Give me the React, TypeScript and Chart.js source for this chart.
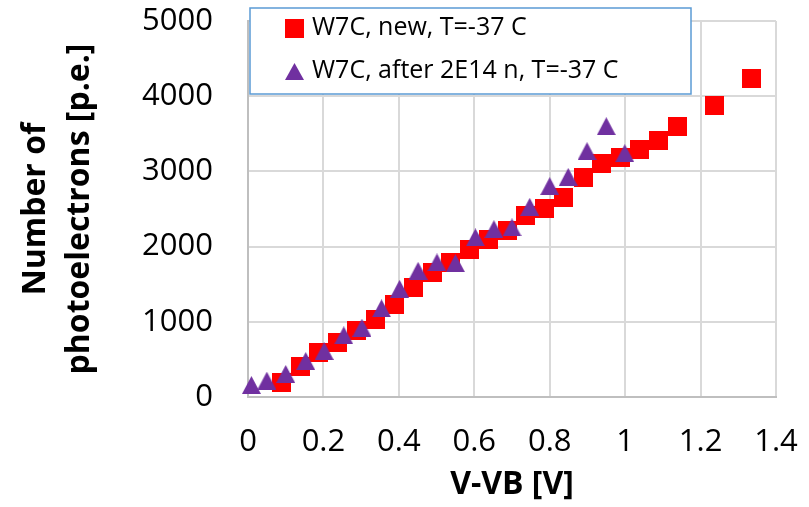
import React, { useEffect, useRef } from "react";
import { Chart, registerables } from "chart.js";

Chart.register(...registerables);

// W7C, new, T=-37 C
const newVoltage = [
  0.089, 0.138, 0.188, 0.238, 0.288, 0.339, 0.388, 0.439, 0.489, 0.537, 0.587, 0.638,
  0.688, 0.737, 0.787, 0.837, 0.889, 0.938, 0.987, 1.037, 1.088, 1.139, 1.238, 1.335,
];
const newPhotoelectrons = [
  199, 408, 598, 727, 881, 1027, 1236, 1452, 1652, 1790, 1957, 2099,
  2219, 2414, 2507, 2657, 2923, 3100, 3180, 3295, 3406, 3601, 3876, 4229,
];

// W7C, after 2E14 n, T=-37 C
const irradVoltage = [
  0.009, 0.05, 0.1, 0.153, 0.202, 0.254, 0.302, 0.354, 0.402, 0.451, 0.501,
  0.55, 0.603, 0.652, 0.7, 0.747, 0.8, 0.849, 0.899, 0.95, 0.999,
];
const irradPhotoelectrons = [
  159, 217, 306, 478, 611, 820, 921, 1179, 1439, 1678, 1790,
  1780, 2122, 2232, 2255, 2529, 2804, 2927, 3269, 3601, 3242,
];

const seriesLabels = ["W7C, new, T=-37 C", "W7C, after 2E14 n, T=-37 C"];
const xTicks = [0, 0.2, 0.4, 0.6, 0.8, 1, 1.2, 1.4];
const yTicks = [0, 1000, 2000, 3000, 4000, 5000];
const xTitle = "V-VB [V]";
const yTitle = ["Number of", "photoelectrons [p.e.]"];

const RED = "#FF0000";
const PURPLE = "#7030A0";
const FONT = "'Open Sans', sans-serif";

function squareMarker(size: number, color: string): HTMLCanvasElement {
  const c = document.createElement("canvas");
  c.width = size;
  c.height = size;
  const ctx = c.getContext("2d")!;
  ctx.fillStyle = color;
  ctx.fillRect(0, 0, size, size);
  return c;
}

function triangleMarker(w: number, h: number, color: string): HTMLCanvasElement {
  const c = document.createElement("canvas");
  c.width = w;
  c.height = h;
  const ctx = c.getContext("2d")!;
  ctx.fillStyle = color;
  ctx.beginPath();
  ctx.moveTo(w / 2, 0);
  ctx.lineTo(w, h);
  ctx.lineTo(0, h);
  ctx.closePath();
  ctx.fill();
  return c;
}

// Bordered legend box drawn inside the plot area
const boxedLegend = {
  id: "boxedLegend",
  afterDraw(chart: any) {
    const { ctx } = chart;
    const left = 250, top = 8, right = 691, bottom = 94;
    ctx.save();
    ctx.fillStyle = "#FFFFFF";
    ctx.fillRect(left, top, right - left, bottom - top);
    ctx.strokeStyle = "#5B9BD5";
    ctx.lineWidth = 1.5;
    ctx.strokeRect(left, top, right - left, bottom - top);

    const rows = [28, 71];
    chart.data.datasets.forEach((ds: any, i: number) => {
      const cy = rows[i];
      const mk = ds.legendMarker as HTMLCanvasElement;
      ctx.drawImage(mk, 294.5 - mk.width / 2, cy - mk.height / 2 + 0.5);
      ctx.fillStyle = "#000000";
      ctx.font = `25px ${FONT}`;
      ctx.textAlign = "left";
      ctx.textBaseline = "middle";
      ctx.fillText(ds.label, 312, cy);
    });
    ctx.restore();
  },
};

export default function App() {
  const canvasRef = useRef<HTMLCanvasElement | null>(null);

  useEffect(() => {
    const canvas = canvasRef.current;
    if (!canvas) return;

    const redSquare = squareMarker(19, RED);
    const purpleTriangle = triangleMarker(19, 18, PURPLE);

    const chart = new Chart(canvas, {
      type: "scatter",
      data: {
        datasets: [
          {
            label: seriesLabels[0],
            data: newVoltage.map((x, i) => ({ x, y: newPhotoelectrons[i] })),
            pointStyle: redSquare,
            pointRadius: 10,
            backgroundColor: RED,
            borderColor: RED,
            clip: false,
            order: 1,
            legendMarker: squareMarker(19, RED),
          } as any,
          {
            label: seriesLabels[1],
            data: irradVoltage.map((x, i) => ({ x, y: irradPhotoelectrons[i] })),
            pointStyle: purpleTriangle,
            pointRadius: 10,
            backgroundColor: PURPLE,
            borderColor: PURPLE,
            clip: false,
            order: 0,
            legendMarker: triangleMarker(19, 17, PURPLE),
          } as any,
        ],
      },
      options: {
        responsive: false,
        animation: false,
        layout: { autoPadding: false, padding: { left: 0, top: 21, right: 33, bottom: 0 } },
        plugins: {
          legend: { display: false },
          tooltip: { enabled: false },
        },
        scales: {
          x: {
            type: "linear",
            min: xTicks[0],
            max: xTicks[xTicks.length - 1],
            afterBuildTicks: (scale: any) => {
              scale.ticks = xTicks.map((v) => ({ value: v }));
            },
            afterFit: (scale: any) => {
              scale.height = 110;
            },
            grid: {
              color: "#D9D9D9",
              lineWidth: 2,
              drawTicks: true,
              tickLength: 27,
              tickColor: "rgba(0,0,0,0)",
            },
            border: { color: "#BFBFBF", width: 2 },
            ticks: {
              color: "#000000",
              font: { family: FONT, size: 31 },
              padding: 0,
              maxRotation: 0,
              callback: (v: any) => String(Math.round(Number(v) * 10) / 10),
            },
            title: {
              display: true,
              text: xTitle,
              color: "#000000",
              font: { family: FONT, size: 32, weight: "bold", lineHeight: 1.375 },
              padding: { top: 0, bottom: 0 },
            },
          },
          y: {
            type: "linear",
            min: yTicks[0],
            max: yTicks[yTicks.length - 1],
            afterBuildTicks: (scale: any) => {
              scale.ticks = yTicks.map((v) => ({ value: v }));
            },
            afterFit: (scale: any) => {
              scale.width = 248;
            },
            grid: {
              color: "#D9D9D9",
              lineWidth: 2,
              drawTicks: true,
              tickLength: 35,
              tickColor: "rgba(0,0,0,0)",
            },
            border: { color: "#BFBFBF", width: 2 },
            ticks: {
              color: "#000000",
              font: { family: FONT, size: 31 },
              padding: 0,
              callback: (v: any) => String(v),
            },
            title: {
              display: true,
              text: yTitle,
              color: "#000000",
              font: { family: FONT, size: 32, weight: "bold", lineHeight: 1.375 },
              padding: { top: 14, bottom: 0 },
            },
          },
        },
      } as any,
      plugins: [boxedLegend],
    });

    return () => chart.destroy();
  }, []);

  return (
    <div style={{ position: "fixed", left: 0, top: 0, width: 809, height: 507, background: "#FFFFFF" }}>
      <canvas ref={canvasRef} width={809} height={507} style={{ width: 809, height: 507, display: "block" }} />
    </div>
  );
}
